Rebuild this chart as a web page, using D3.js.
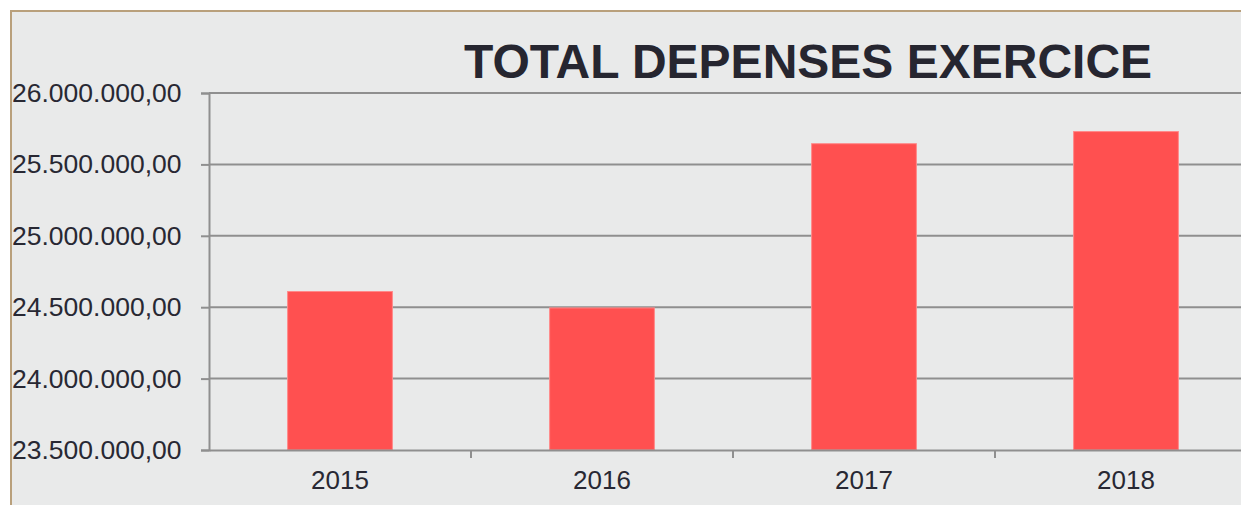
<!DOCTYPE html>
<html>
<head>
<meta charset="utf-8">
<script src="https://cdn.jsdelivr.net/npm/d3@7"></script>
<style>
  body { margin: 0; background: #fff; }
  svg { display: block; }
  svg text { font-family: "Liberation Sans", Arial, sans-serif; }
</style>
</head>
<body>
<svg id="chart" width="1241" height="505"></svg>
<script>
// data
var years = ["2015", "2016", "2017", "2018"];
var depenses = [24610000, 24495000, 25645000, 25730000];
var yTicks = [23500000, 24000000, 24500000, 25000000, 25500000, 26000000];

var svg = d3.select("#chart");

// frame
svg.append("rect").attr("x", 11).attr("y", 11).attr("width", 1250).attr("height", 520)
  .style("fill", "#e9eaea").style("stroke", "#b9a07c").style("stroke-width", 2);

var x = d3.scaleBand().domain(years).range([209, 1257]).padding(0);
var y = d3.scaleLinear().domain([23500000, 26000000]).range([450, 93]);

var fr = d3.formatLocale({ decimal: ",", thousands: ".", grouping: [3], currency: ["", ""] });
var fmt = fr.format(",.2f");

// gridlines
svg.append("g").selectAll("line").data(yTicks.slice(1)).join("line")
  .attr("x1", 209).attr("x2", 1257)
  .attr("y1", function(d) { return y(d); }).attr("y2", function(d) { return y(d); })
  .style("stroke", "#8f8f8f").style("stroke-width", 2);

// bars
var bw = x.bandwidth() * 0.4;
svg.append("g").selectAll("rect").data(depenses).join("rect")
  .attr("x", function(d, i) { return x(years[i]) + (x.bandwidth() - bw) / 2; })
  .attr("y", function(d) { return y(d); })
  .attr("width", bw)
  .attr("height", function(d) { return 450 - y(d); })
  .style("fill", "#ff5050").style("stroke", "#ff8a8a").style("stroke-width", 1);

// y axis
var yAxis = svg.append("g").attr("transform", "translate(209,0)")
  .call(d3.axisLeft(y).tickValues(yTicks).tickFormat(fmt).tickSize(8).tickPadding(16));
yAxis.attr("font-family", null).attr("font-size", null);
yAxis.select(".domain").style("stroke", "#8f8f8f").style("stroke-width", 2);
yAxis.selectAll(".tick line").style("stroke", "#8f8f8f").style("stroke-width", 2);
yAxis.selectAll(".tick text").style("font-size", "26.5px").style("fill", "#282833")
  .attr("text-anchor", "start").attr("x", -197);

// x axis
var xAxis = svg.append("g").attr("transform", "translate(0,450)")
  .call(d3.axisBottom(x).tickSize(0).tickPadding(21));
xAxis.attr("font-family", null).attr("font-size", null);
xAxis.select(".domain").style("stroke", "#8f8f8f").style("stroke-width", 2);
xAxis.selectAll(".tick text").style("font-size", "26px").style("fill", "#282833");
svg.append("g").selectAll("line").data(years.slice(1)).join("line")
  .attr("x1", function(d) { return x(d); }).attr("x2", function(d) { return x(d); })
  .attr("y1", 450).attr("y2", 458)
  .style("stroke", "#8f8f8f").style("stroke-width", 2);

// title
svg.append("text").attr("x", 808).attr("y", 78).attr("text-anchor", "middle")
  .text("TOTAL DEPENSES EXERCICE")
  .style("font-size", "48px").style("font-weight", "bold").style("fill", "#262630");
</script>
</body>
</html>
